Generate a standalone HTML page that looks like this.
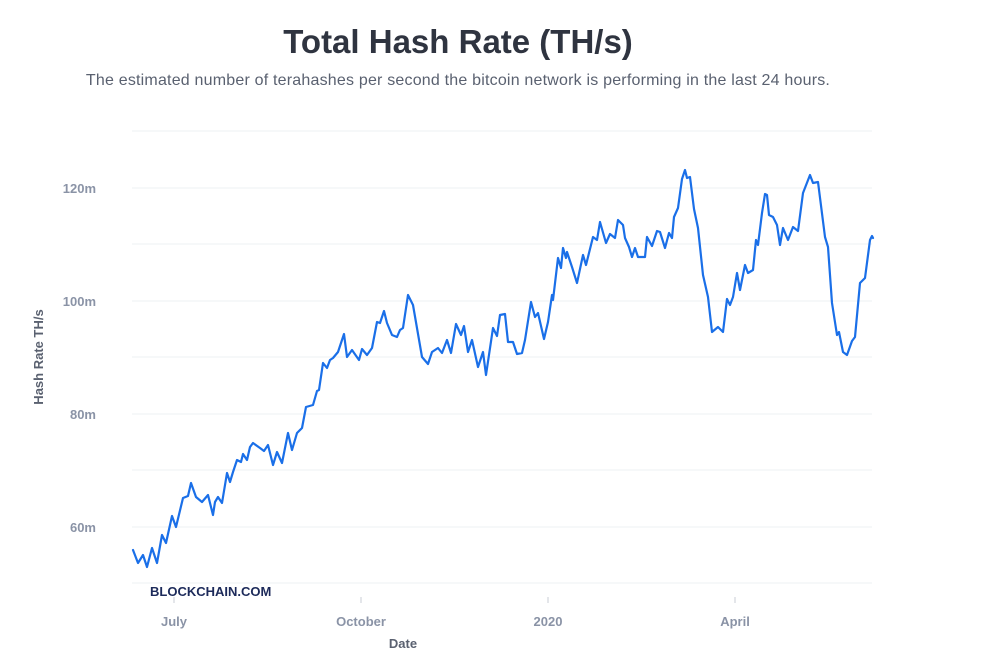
<!DOCTYPE html>
<html><head><meta charset="utf-8"><style>
body{margin:0;background:#fff;width:993px;height:664px;overflow:hidden;font-family:"Liberation Sans",sans-serif}
</style></head><body>
<svg width="993" height="664" xmlns="http://www.w3.org/2000/svg" font-family="Liberation Sans, sans-serif">
<text x="458" y="53" text-anchor="middle" font-size="33" font-weight="bold" fill="#2f3440">Total Hash Rate (TH/s)</text>
<text x="458" y="85" text-anchor="middle" font-size="16" letter-spacing="0.2" fill="#5a6170">The estimated number of terahashes per second the bitcoin network is performing in the last 24 hours.</text>
<g stroke="#eef0f3" stroke-width="1">
<line x1="132" x2="872" y1="131" y2="131"/><line x1="132" x2="872" y1="188" y2="188"/>
<line x1="132" x2="872" y1="244" y2="244"/><line x1="132" x2="872" y1="301" y2="301"/>
<line x1="132" x2="872" y1="357" y2="357"/><line x1="132" x2="872" y1="414" y2="414"/>
<line x1="132" x2="872" y1="470" y2="470"/><line x1="132" x2="872" y1="527" y2="527"/>
<line x1="132" x2="872" y1="583" y2="583"/>
</g>
<g stroke="#c8ccd4" stroke-width="1"><line x1="174" x2="174" y1="597" y2="603"/><line x1="361" x2="361" y1="597" y2="603"/><line x1="548" x2="548" y1="597" y2="603"/><line x1="735" x2="735" y1="597" y2="603"/></g>
<g font-size="13" font-weight="bold" fill="#8a93a6" text-anchor="end">
<text x="96" y="193">120m</text><text x="96" y="306">100m</text><text x="96" y="419">80m</text><text x="96" y="532">60m</text></g>
<g font-size="13" font-weight="bold" fill="#8a93a6" text-anchor="middle">
<text x="174" y="626">July</text><text x="361" y="626">October</text><text x="548" y="626">2020</text><text x="735" y="626">April</text></g>
<text x="403" y="648" text-anchor="middle" font-size="13" font-weight="bold" fill="#5a6170">Date</text>
<text transform="translate(43,357) rotate(-90)" text-anchor="middle" font-size="13" font-weight="bold" fill="#5a6170">Hash Rate TH/s</text>
<text x="150" y="596" font-size="13" font-weight="bold" fill="#1c2a5a">BLOCKCHAIN.COM</text>
<polyline fill="none" stroke="#1a6fe8" stroke-width="2.2" stroke-linejoin="round" stroke-linecap="round" points="133,550 138,563 143,555 147,567 152,548 157,563 162,535 166,543 172,516 176,527 183,498 188,496 191,483 196,497 202,502 208,495 213,515 215,502 218,497 222,503 227,473 230,482 233,472 237,460 241,462 243,454 247,460 250,447 253,443 260,448 264,451 268,445 273,465 277,452 282,463 288,433 292,450 297,433 302,428 306,407 313,405 317,391 319,390 323,363 327,368 330,360 333,358 338,352 344,334 347,357 352,350 359,360 362,349 367,355 372,348 377,322 380,323 384,311 387,323 392,335 397,337 400,330 403,328 408,295 413,305 422,357 428,364 432,352 438,348 442,353 447,340 451,353 456,324 461,335 464,326 468,352 472,340 478,367 483,352 486,375 493,328 497,336 500,315 505,314 508,342 513,342 517,354 522,353 525,340 531,302 535,317 538,313 544,339 548,322 552,295 553,300 558,258 561,268 563,248 566,258 567,252 572,267 577,283 583,255 586,265 593,237 597,240 600,222 606,243 610,234 615,238 618,220 623,225 625,238 629,247 632,257 635,248 638,257 645,257 647,237 652,246 657,231 660,232 665,248 669,233 672,238 674,217 678,208 682,179 685,170 687,178 690,177 694,209 698,228 703,275 708,297 712,332 718,327 723,332 727,299 730,305 733,297 737,273 740,290 745,265 748,273 753,270 756,240 758,245 762,213 765,194 767,195 769,215 773,217 777,225 780,245 783,228 788,240 793,227 798,231 803,193 810,175 813,183 818,182 825,237 828,247 832,303 837,335 839,332 843,352 847,355 852,341 855,337 860,283 865,278 870,240 872,236 873,238"/>
</svg>
</body></html>
